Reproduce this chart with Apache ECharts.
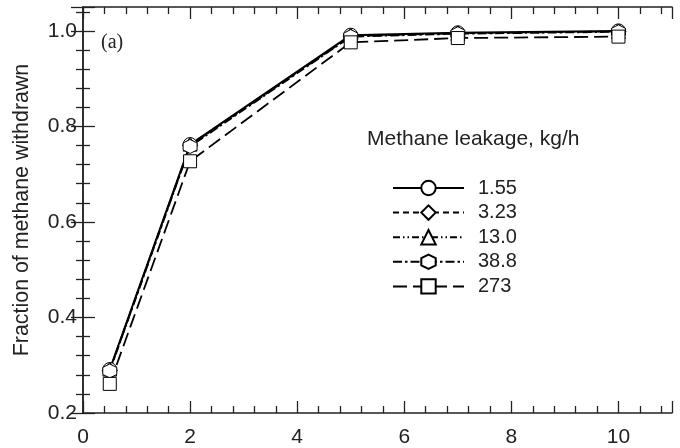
<!DOCTYPE html>
<html>
<head>
<meta charset="utf-8">
<title>Fraction of methane withdrawn</title>
<script src="https://cdn.jsdelivr.net/npm/echarts@6/dist/echarts.min.js"></script>
<style>
  html, body { margin: 0; padding: 0; background: #fff; }
  #main { width: 680px; height: 448px; }
</style>
</head>
<body>
<div id="main"></div>
<script>
// x positions of the samples
var xValues = [0.5, 2, 5, 7, 10];
// legend names (methane leakage, kg/h)
var leakNames = ['1.55', '3.23', '13.0', '38.8', '273'];
// fraction withdrawn per leakage rate
var s155 = [0.291, 0.762, 0.991, 0.996, 1.000];
var s323 = [0.289, 0.760, 0.989, 0.995, 0.999];
var s130 = [0.292, 0.763, 0.990, 0.995, 0.999];
var s388 = [0.288, 0.758, 0.988, 0.994, 0.998];
var s273 = [0.261, 0.727, 0.976, 0.985, 0.988];

var hexagon = 'path://M0,-1L0.866,-0.5L0.866,0.5L0,1L-0.866,0.5L-0.866,-0.5Z';
var ink = '#222';
var sans = 'Liberation Sans, Arial, sans-serif';

function pairs(ys) {
  return xValues.map(function (x, i) { return [x, ys[i]]; });
}

function makeSeries(name, ys, symbol, size, dash, width) {
  return {
    name: name,
    type: 'line',
    data: pairs(ys),
    symbol: symbol,
    symbolSize: size,
    showAllSymbol: true,
    color: '#000',
    lineStyle: { color: '#000', width: width, type: dash },
    itemStyle: { color: '#fff', borderColor: '#000', borderWidth: 1 },
    emphasis: { disabled: true },
    animation: false
  };
}

var chart = echarts.init(document.getElementById('main'));

var tickCommon = { inside: true, length: 12, lineStyle: { color: ink, width: 1.3 } };
var minorCommon = { show: true, splitNumber: 5, length: 7, lineStyle: { color: ink, width: 1.3 } };
var lineCommon = { show: true, lineStyle: { color: ink, width: 1.5 } };

chart.setOption({
  animation: false,
  grid: { left: 83, right: 8, top: 7, bottom: 30 },
  title: {
    text: 'Methane leakage, kg/h',
    left: 362,
    top: 124,
    textStyle: { fontFamily: sans, fontSize: 21, fontWeight: 'normal', color: ink }
  },
  legend: {
    data: leakNames,
    orient: 'vertical',
    left: 387,
    top: 173,
    itemWidth: 71,
    itemHeight: 18,
    itemGap: 4.6,
    selectedMode: false,
    textStyle: { fontFamily: sans, fontSize: 20, color: ink, padding: [0, 0, 0, 9] }
  },
  graphic: [{
    type: 'text',
    left: 101,
    top: 33,
    style: { text: '(a)', font: '20px "Liberation Serif", "Times New Roman", serif', fill: ink }
  }],
  xAxis: [{
    type: 'value',
    min: 0, max: 11, interval: 2,
    axisLine: lineCommon,
    axisTick: tickCommon,
    minorTick: minorCommon,
    splitLine: { show: false },
    axisLabel: { showMaxLabel: false, margin: 14, fontFamily: sans, fontSize: 21, color: ink }
  }, {
    type: 'value', position: 'top',
    min: 0, max: 11, interval: 2,
    axisLine: lineCommon,
    axisTick: tickCommon,
    minorTick: minorCommon,
    splitLine: { show: false },
    axisLabel: { show: false }
  }],
  yAxis: [{
    type: 'value',
    min: 0.2, max: 1.05, interval: 0.2,
    name: 'Fraction of methane withdrawn',
    nameLocation: 'middle',
    nameGap: 50,
    nameTextStyle: { fontFamily: sans, fontSize: 21.4, color: ink },
    axisLine: lineCommon,
    axisTick: tickCommon,
    minorTick: minorCommon,
    splitLine: { show: false },
    axisLabel: {
      showMaxLabel: false, margin: 6,
      fontFamily: sans, fontSize: 21, color: ink,
      formatter: function (v) { return v.toFixed(1); }
    }
  }, {
    type: 'value', position: 'right',
    min: 0.2, max: 1.05, interval: 0.2,
    axisLine: lineCommon,
    axisTick: tickCommon,
    minorTick: minorCommon,
    splitLine: { show: false },
    axisLabel: { show: false }
  }],
  series: [
    makeSeries(leakNames[0], s155, 'circle', 14, 'solid', 2),
    makeSeries(leakNames[1], s323, 'diamond', 15, [6, 4], 1.8),
    makeSeries(leakNames[2], s130, 'triangle', 14, [7, 3, 1.5, 3, 1.5, 3], 1),
    makeSeries(leakNames[3], s388, hexagon, 14, [9, 3, 2.5, 3], 1.8),
    makeSeries(leakNames[4], s273, 'rect', 13, [14, 6], 1.8)
  ]
});
</script>
</body>
</html>
